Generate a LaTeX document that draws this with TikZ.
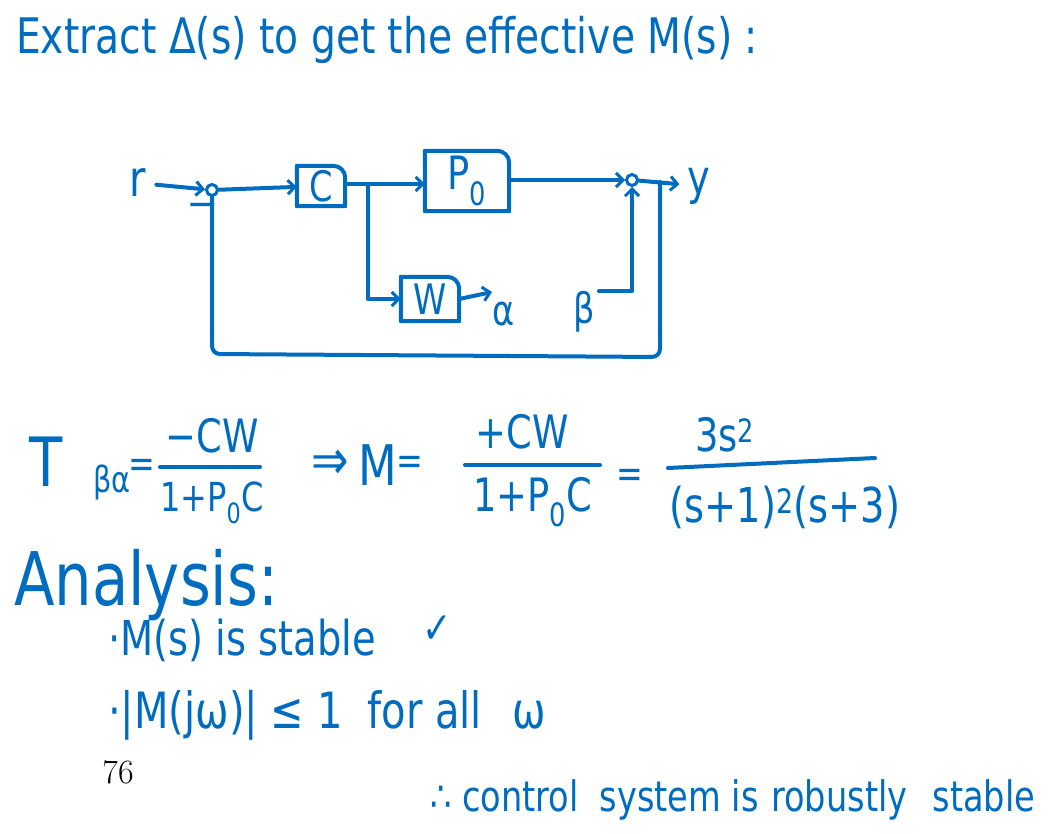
\documentclass[tikz,border=0pt]{standalone}
\usepackage{fontspec}
\setmainfont{DejaVu Sans}[FakeStretch=0.8]
\newfontfamily\pagefont{Latin Modern Roman}
\usetikzlibrary{arrows.meta}
\definecolor{inkblue}{RGB}{0,108,192}
\newcommand\inkblock[1]{\draw[wire] (#1.south west) -- (#1.north west)
    -- ([xshift=-12pt]#1.north east) to[out=0,in=90] ([yshift=-12pt]#1.north east)
    -- (#1.south east) -- cycle;}

\begin{document}
\begin{tikzpicture}[
            x=1pt,y=-1pt,
            every node/.append style={inkblue,inner sep=0pt},
            wire/.style={inkblue,line width=4pt,line cap=round,line join=round},
            flow/.style={wire,-{Straight Barb[length=7pt,width=14pt,line width=3pt]}},
            sumnode/.style={circle,draw=inkblue,line width=3pt,minimum size=11pt},
            hand/.style={font=\fontsize{#1}{#1}\selectfont}
        ]
            \useasboundingbox (0,0) rectangle (1063,834);
            \node[hand=49,anchor=west] (title) at (16,40) {Extract Δ(s) to get the effective M(s) :};

            \node[hand=50] (rlab) at (138,183) {r};
            \node[sumnode] (sumin) at (212,190) {};
            \node[hand=40] (minus) at (201,210) {−};
            \node[minimum width=48pt,minimum height=40pt,hand=42] (ctrl) at (321,186) {C};
            \node[minimum width=84pt,minimum height=60pt,hand=46] (plant) at (467,181) {P\textsubscript{0}};
            \node[minimum width=58pt,minimum height=44pt,hand=42] (wgt) at (430,299) {W};
            \node[sumnode] (sumout) at (632,180) {};
            \node[hand=48] (ylab) at (699,186) {y};
            \node[hand=42] (alab) at (504,314) {α};
            \node[hand=42] (blab) at (584,312) {β};
            \coordinate (split) at (368,184);
            \coordinate (aend) at (492,292);
            \coordinate (tap) at (660,182);
            \coordinate (fbr) at (660,357);
            \coordinate (fbl) at (212,354);
            \inkblock{ctrl}
            \inkblock{plant}
            \inkblock{wgt}
            \draw[flow,shorten <=10pt] (rlab) -- (sumin);
            \draw[flow] (sumin) -- (ctrl);
            \draw[flow] (ctrl.east |- split) -- (plant.west |- split);
            \draw[flow] (split) |- (wgt.west);
            \draw[flow] (wgt.east) -- (aend);
            \draw[flow] ([xshift=4pt]blab.north east) -| (sumout.south);
            \draw[flow] (plant.east |- sumout) -- (sumout);
            \draw[flow,shorten >=8pt] (sumout) -- (ylab);
            \draw[wire,rounded corners=8pt] (tap) -- (fbr) -- (fbl) -- (sumin.south);

            \node[hand=68] (tsym) at (46,462) {T};
            \node[hand=36] (tsub) at (112,482) {βα};
            \node[hand=40] (eqa) at (142,468) {=};
            \node[hand=46] (numa) at (212,436) {−CW};
            \coordinate (bara1) at (160,467);
            \coordinate (bara2) at (260,467);
            \node[hand=40] (dena) at (212,503) {1+P\textsubscript{0}C};
            \node[hand=56] (impl) at (330,465) {⇒};
            \node[hand=56] (mlab) at (378,465) {M};
            \node[hand=40] (eqb) at (410,465) {=};
            \node[hand=46] (numb) at (522,432) {+CW};
            \coordinate (barb1) at (465,465);
            \coordinate (barb2) at (600,465);
            \node[hand=46] (denb) at (533,502) {1+P\textsubscript{0}C};
            \node[hand=40] (eqc) at (630,478) {=};
            \node[hand=46] (numc) at (725,435) {3s\textsuperscript{2}};
            \coordinate (barc1) at (668,468);
            \coordinate (barc2) at (875,458);
            \node[hand=48] (denc) at (785,507) {(s+1)\textsuperscript{2}(s+3)};
            \draw[wire] (bara1) -- (bara2);
            \draw[wire] (barb1) -- (barb2);
            \draw[wire] (barc1) -- (barc2);

            \node[hand=74,anchor=west] (anal) at (14,585) {Analysis:};
            \node[hand=48,anchor=west] (itema) at (108,640) {·M(s) is stable};
            \node[hand=44] (tick) at (437,630) {✓};
            \node[hand=50,anchor=west] (itemb) at (108,715) {·|M(jω)| ≤ 1\hspace{0.5em}for all\hspace{0.6em}ω};
            \node[black,font=\pagefont\fontsize{34}{34}\selectfont] (page) at (118,772) {76};
            \node[hand=42,anchor=west] (concl) at (430,800) {∴ control\hspace{0.5em}system is\hspace{0.3em}robustly\hspace{0.6em}stable};
        \end{tikzpicture}
\end{document}
